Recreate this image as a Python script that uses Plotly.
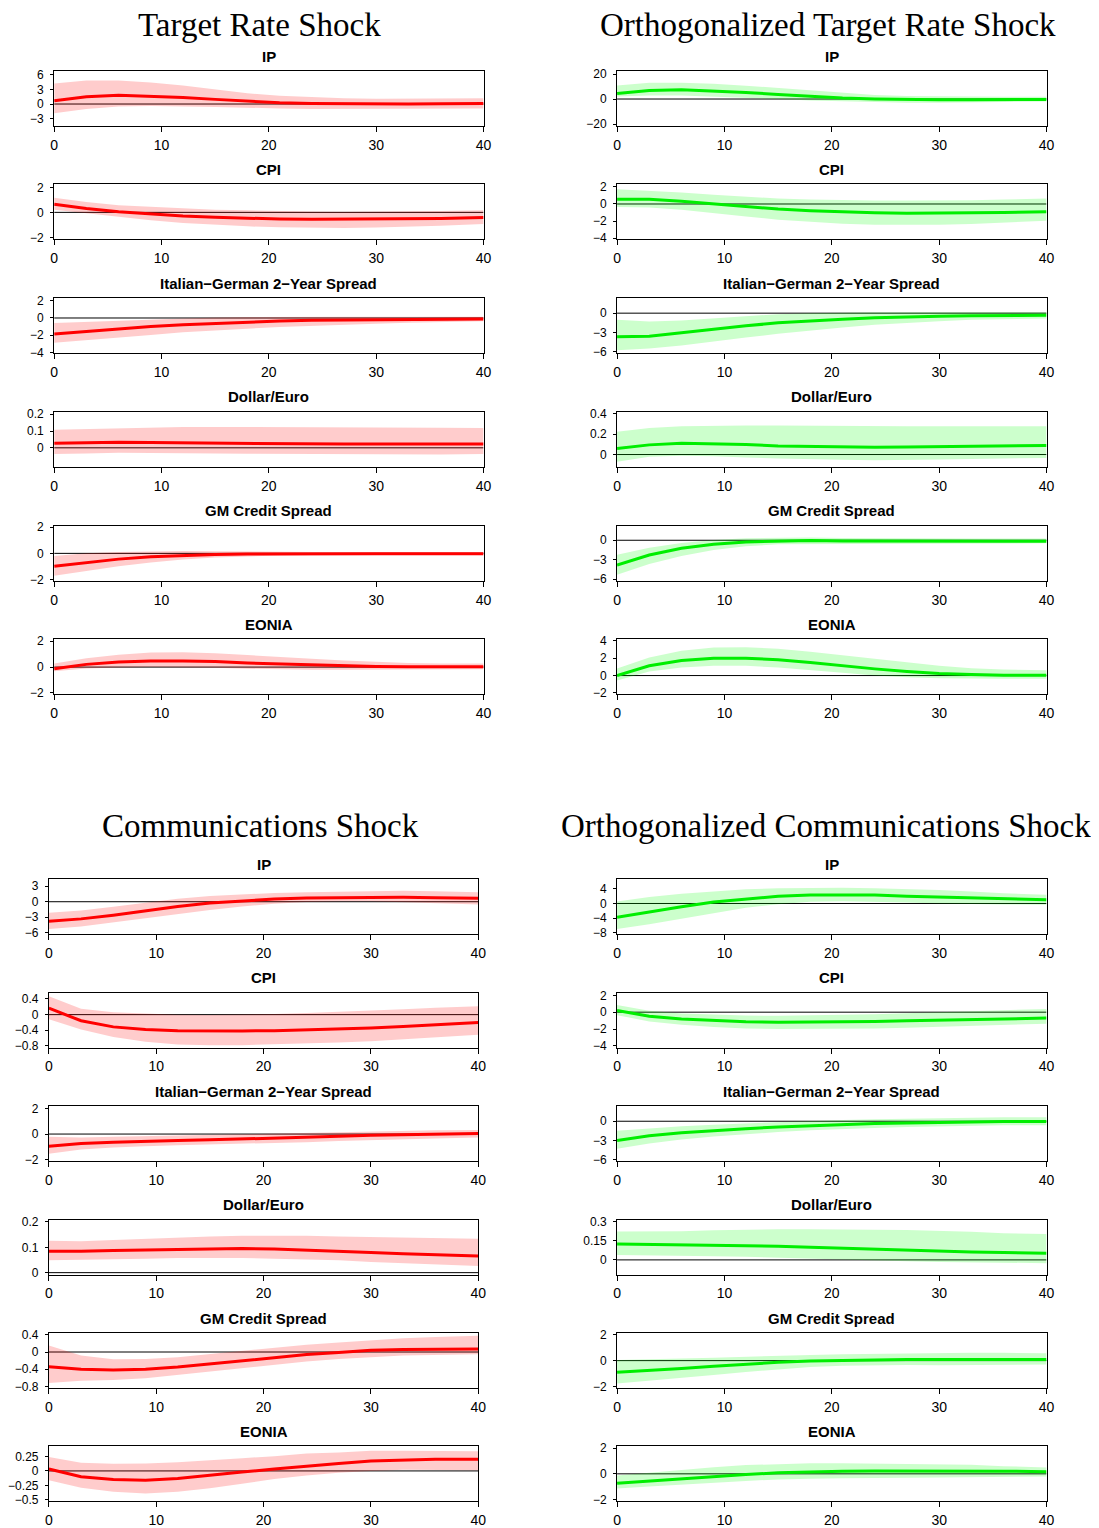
import plotly.graph_objects as go

# ---------------- data ----------------
H = [0, 3, 6, 9, 12, 15, 18, 21, 24, 27, 30, 33, 36, 40]
X_TICKS = [0, 10, 20, 30, 40]
VARS = ["IP", "CPI", "Italian\u2212German 2\u2212Year Spread", "Dollar/Euro", "GM Credit Spread", "EONIA"]
PANEL_TITLES = ["Target Rate Shock", "Orthogonalized Target Rate Shock",
                "Communications Shock", "Orthogonalized Communications Shock"]

# Target Rate Shock
tr_ip_mid = [0.65, 1.5, 1.8, 1.6, 1.35, 0.95, 0.55, 0.25, 0.12, 0.05, 0.02, 0.02, 0.05, 0.1]
tr_ip_hi = [4.2, 4.8, 4.8, 4.4, 3.8, 3.0, 2.2, 1.7, 1.4, 1.2, 1.1, 1.1, 1.1, 1.2]
tr_ip_lo = [-1.9, -1.0, -0.5, -0.4, -0.5, -0.6, -0.7, -0.9, -1.0, -1.0, -1.0, -1.0, -0.95, -0.9]
tr_cpi_mid = [0.64, 0.3, 0.05, -0.15, -0.3, -0.4, -0.48, -0.53, -0.56, -0.56, -0.55, -0.53, -0.5, -0.42]
tr_cpi_hi = [1.17, 0.83, 0.56, 0.43, 0.3, 0.21, 0.16, 0.1, 0.07, 0.05, 0.05, 0.07, 0.1, 0.16]
tr_cpi_lo = [0.2, -0.1, -0.37, -0.64, -0.85, -0.99, -1.12, -1.2, -1.25, -1.25, -1.22, -1.17, -1.07, -0.93]
tr_it_mid = [-1.86, -1.55, -1.28, -1.0, -0.78, -0.62, -0.47, -0.35, -0.27, -0.23, -0.19, -0.16, -0.14, -0.12]
tr_it_hi = [-0.58, -0.45, -0.3, -0.15, -0.05, 0.05, 0.12, 0.15, 0.15, 0.15, 0.15, 0.15, 0.15, 0.15]
tr_it_lo = [-2.87, -2.56, -2.25, -1.98, -1.67, -1.44, -1.24, -1.05, -0.9, -0.78, -0.66, -0.54, -0.46, -0.39]
tr_fx_mid = [0.027, 0.031, 0.033, 0.031, 0.029, 0.027, 0.025, 0.023, 0.022, 0.022, 0.022, 0.022, 0.022, 0.022]
tr_fx_hi = [0.108, 0.112, 0.118, 0.121, 0.124, 0.124, 0.124, 0.124, 0.124, 0.124, 0.123, 0.121, 0.12, 0.118]
tr_fx_lo = [-0.037, -0.033, -0.029, -0.029, -0.031, -0.033, -0.035, -0.037, -0.039, -0.039, -0.039, -0.039, -0.039, -0.037]
tr_gm_mid = [-0.99, -0.7, -0.44, -0.26, -0.16, -0.08, -0.05, -0.03, -0.02, -0.02, -0.02, -0.02, -0.02, -0.02]
tr_gm_hi = [-0.2, 0.0, 0.1, 0.16, 0.18, 0.16, 0.13, 0.1, 0.08, 0.08, 0.08, 0.08, 0.08, 0.08]
tr_gm_lo = [-1.71, -1.35, -0.99, -0.7, -0.47, -0.31, -0.21, -0.16, -0.13, -0.11, -0.1, -0.1, -0.1, -0.1]
tr_eo_mid = [-0.13, 0.21, 0.4, 0.48, 0.48, 0.43, 0.32, 0.24, 0.16, 0.1, 0.05, 0.03, 0.02, 0.02]
tr_eo_hi = [0.27, 0.69, 0.96, 1.12, 1.15, 1.07, 0.93, 0.77, 0.64, 0.51, 0.4, 0.32, 0.27, 0.27]
tr_eo_lo = [-0.32, -0.1, -0.03, 0.0, 0.0, -0.05, -0.13, -0.19, -0.21, -0.21, -0.21, -0.21, -0.19, -0.16]

# Orthogonalized Target Rate Shock
otr_ip_mid = [4.5, 6.9, 7.5, 6.7, 5.3, 3.7, 2.1, 0.8, 0.0, -0.5, -0.6, -0.6, -0.5, -0.3]
otr_ip_hi = [10.9, 13.0, 13.0, 12.3, 10.7, 8.8, 6.7, 4.5, 3.2, 2.4, 2.1, 1.9, 1.9, 1.9]
otr_ip_lo = [2.1, 2.9, 2.9, 2.1, 1.1, 0.0, -1.1, -1.9, -2.4, -2.9, -2.9, -2.9, -2.4, -1.9]
otr_cpi_mid = [0.56, 0.56, 0.32, 0.0, -0.32, -0.6, -0.8, -0.96, -1.04, -1.08, -1.08, -1.04, -1.0, -0.92]
otr_cpi_hi = [1.72, 1.56, 1.36, 1.08, 0.84, 0.64, 0.52, 0.44, 0.4, 0.4, 0.4, 0.44, 0.52, 0.64]
otr_cpi_lo = [-0.36, -0.4, -0.68, -1.08, -1.48, -1.84, -2.12, -2.32, -2.44, -2.48, -2.44, -2.36, -2.2, -1.96]
otr_it_mid = [-3.68, -3.58, -3.06, -2.49, -1.97, -1.5, -1.19, -0.93, -0.73, -0.57, -0.47, -0.41, -0.36, -0.31]
otr_it_hi = [-1.04, -1.3, -1.14, -0.83, -0.47, -0.16, 0.0, 0.1, 0.16, 0.16, 0.16, 0.16, 0.16, 0.16]
otr_it_lo = [-5.75, -5.49, -5.03, -4.46, -3.78, -3.21, -2.69, -2.23, -1.81, -1.5, -1.24, -1.04, -0.93, -0.83]
otr_fx_mid = [0.059, 0.095, 0.111, 0.108, 0.098, 0.085, 0.079, 0.075, 0.072, 0.075, 0.079, 0.082, 0.085, 0.089]
otr_fx_hi = [0.223, 0.262, 0.279, 0.285, 0.285, 0.285, 0.282, 0.282, 0.282, 0.279, 0.279, 0.279, 0.279, 0.279]
otr_fx_lo = [-0.072, -0.023, -0.013, -0.016, -0.03, -0.039, -0.049, -0.052, -0.056, -0.056, -0.049, -0.043, -0.036, -0.033]
otr_gm_mid = [-3.83, -2.28, -1.24, -0.62, -0.26, -0.1, -0.05, -0.1, -0.13, -0.15, -0.15, -0.15, -0.15, -0.15]
otr_gm_hi = [-2.22, -1.14, -0.41, 0.05, 0.31, 0.41, 0.41, 0.36, 0.31, 0.28, 0.26, 0.26, 0.26, 0.26]
otr_gm_lo = [-5.33, -3.67, -2.43, -1.5, -0.93, -0.62, -0.52, -0.52, -0.52, -0.52, -0.5, -0.5, -0.48, -0.47]
otr_eo_mid = [0.0, 1.12, 1.73, 2.0, 2.0, 1.81, 1.5, 1.12, 0.77, 0.46, 0.23, 0.12, 0.04, 0.04]
otr_eo_hi = [0.81, 2.08, 2.85, 3.23, 3.27, 3.08, 2.73, 2.31, 1.88, 1.46, 1.12, 0.85, 0.69, 0.62]
otr_eo_lo = [-0.58, 0.46, 0.92, 1.12, 1.12, 0.92, 0.65, 0.31, 0.0, -0.19, -0.31, -0.35, -0.38, -0.38]

# Communications Shock
cs_ip_mid = [-3.78, -3.33, -2.61, -1.76, -0.91, -0.26, 0.2, 0.52, 0.72, 0.78, 0.85, 0.85, 0.78, 0.65]
cs_ip_hi = [-2.15, -1.7, -0.98, -0.13, 0.59, 1.11, 1.43, 1.7, 1.83, 1.96, 2.09, 2.15, 2.02, 1.83]
cs_ip_lo = [-5.28, -4.83, -4.11, -3.26, -2.41, -1.63, -0.91, -0.39, -0.07, 0.07, 0.07, -0.07, -0.26, -0.52]
cs_cpi_mid = [0.165, -0.157, -0.313, -0.383, -0.409, -0.417, -0.417, -0.409, -0.39, -0.374, -0.34, -0.304, -0.26, -0.2]
cs_cpi_hi = [0.47, 0.148, 0.06, 0.026, 0.0, -0.01, 0.0, 0.017, 0.043, 0.07, 0.104, 0.14, 0.174, 0.217]
cs_cpi_lo = [-0.12, -0.383, -0.574, -0.696, -0.765, -0.78, -0.78, -0.765, -0.74, -0.713, -0.678, -0.635, -0.583, -0.513]
cs_it_mid = [-0.95, -0.74, -0.63, -0.55, -0.5, -0.45, -0.39, -0.34, -0.26, -0.18, -0.1, -0.05, 0.0, 0.05]
cs_it_hi = [-0.21, -0.26, -0.21, -0.16, -0.1, -0.05, 0.0, 0.05, 0.13, 0.18, 0.24, 0.26, 0.29, 0.32]
cs_it_lo = [-1.53, -1.21, -1.05, -0.95, -0.87, -0.82, -0.76, -0.68, -0.63, -0.55, -0.47, -0.39, -0.34, -0.26]
cs_fx_mid = [0.084, 0.084, 0.087, 0.089, 0.092, 0.095, 0.095, 0.093, 0.089, 0.086, 0.08, 0.075, 0.071, 0.066]
cs_fx_hi = [0.126, 0.124, 0.129, 0.134, 0.139, 0.143, 0.146, 0.147, 0.146, 0.143, 0.141, 0.138, 0.136, 0.134]
cs_fx_lo = [0.049, 0.05, 0.053, 0.055, 0.058, 0.059, 0.058, 0.055, 0.053, 0.049, 0.042, 0.037, 0.032, 0.026]
cs_gm_mid = [-0.34, -0.4, -0.42, -0.4, -0.35, -0.28, -0.21, -0.13, -0.06, -0.01, 0.04, 0.06, 0.07, 0.07]
cs_gm_hi = [0.15, -0.08, -0.17, -0.16, -0.12, -0.05, 0.03, 0.1, 0.17, 0.22, 0.27, 0.32, 0.35, 0.38]
cs_gm_lo = [-0.72, -0.67, -0.65, -0.61, -0.54, -0.46, -0.38, -0.3, -0.22, -0.16, -0.12, -0.08, -0.06, -0.05]
cs_eo_mid = [0.034, -0.1, -0.15, -0.16, -0.13, -0.08, -0.02, 0.034, 0.085, 0.13, 0.17, 0.19, 0.2, 0.2]
cs_eo_hi = [0.24, 0.14, 0.125, 0.13, 0.15, 0.18, 0.22, 0.255, 0.3, 0.32, 0.35, 0.35, 0.35, 0.34]
cs_eo_lo = [-0.16, -0.29, -0.36, -0.39, -0.36, -0.3, -0.22, -0.14, -0.08, -0.03, 0.0, 0.02, 0.02, 0.01]

# Orthogonalized Communications Shock
ocs_ip_mid = [-3.8, -2.3, -0.9, 0.4, 1.3, 2.0, 2.3, 2.4, 2.3, 2.0, 1.8, 1.5, 1.2, 1.0]
ocs_ip_hi = [0.56, 1.8, 2.7, 3.4, 3.9, 4.2, 4.3, 4.3, 4.2, 4.0, 3.7, 3.3, 2.8, 2.4]
ocs_ip_lo = [-7.0, -5.7, -4.3, -2.7, -1.2, -0.2, 0.5, 0.65, 0.56, 0.28, 0.0, -0.2, -0.28, -0.37]
ocs_cpi_mid = [0.2, -0.47, -0.82, -1.02, -1.14, -1.18, -1.18, -1.14, -1.1, -1.02, -0.94, -0.86, -0.78, -0.7]
ocs_cpi_hi = [0.86, 0.16, -0.16, -0.31, -0.39, -0.43, -0.39, -0.31, -0.24, -0.12, 0.0, 0.16, 0.27, 0.39]
ocs_cpi_lo = [-0.35, -1.1, -1.49, -1.76, -1.92, -2.0, -2.0, -1.96, -1.92, -1.84, -1.76, -1.65, -1.53, -1.37]
ocs_it_mid = [-3.0, -2.26, -1.79, -1.42, -1.16, -0.89, -0.68, -0.53, -0.37, -0.26, -0.16, -0.1, -0.05, -0.05]
ocs_it_hi = [-1.47, -1.1, -0.79, -0.53, -0.32, -0.1, 0.05, 0.21, 0.32, 0.42, 0.53, 0.58, 0.63, 0.63]
ocs_it_lo = [-4.3, -3.47, -2.84, -2.37, -2.0, -1.68, -1.42, -1.21, -1.05, -0.89, -0.79, -0.68, -0.63, -0.63]
ocs_fx_mid = [0.124, 0.121, 0.121, 0.118, 0.116, 0.108, 0.1, 0.092, 0.084, 0.076, 0.071, 0.063, 0.058, 0.053]
ocs_fx_hi = [0.224, 0.224, 0.226, 0.232, 0.237, 0.24, 0.24, 0.24, 0.237, 0.234, 0.229, 0.221, 0.21, 0.203]
ocs_fx_lo = [0.039, 0.034, 0.032, 0.029, 0.024, 0.018, 0.013, 0.005, -0.003, -0.011, -0.016, -0.021, -0.024, -0.026]
ocs_gm_mid = [-0.91, -0.78, -0.62, -0.44, -0.26, -0.13, -0.03, 0.03, 0.05, 0.08, 0.08, 0.08, 0.08, 0.08]
ocs_gm_hi = [0.05, 0.08, 0.16, 0.23, 0.31, 0.39, 0.44, 0.49, 0.52, 0.57, 0.6, 0.6, 0.6, 0.57]
ocs_gm_lo = [-1.77, -1.56, -1.35, -1.12, -0.88, -0.68, -0.49, -0.39, -0.34, -0.34, -0.36, -0.36, -0.34, -0.31]
ocs_eo_mid = [-0.73, -0.55, -0.36, -0.18, -0.05, 0.08, 0.16, 0.21, 0.23, 0.23, 0.26, 0.23, 0.21, 0.16]
ocs_eo_hi = [-0.13, 0.1, 0.31, 0.52, 0.68, 0.78, 0.83, 0.83, 0.81, 0.78, 0.75, 0.7, 0.6, 0.49]
ocs_eo_lo = [-1.14, -0.99, -0.83, -0.68, -0.55, -0.44, -0.39, -0.34, -0.31, -0.31, -0.29, -0.29, -0.26, -0.21]

# y-axis ranges and tick values per panel
tr_yrange = [[-4.5, 6.75], [-2.16, 2.24], [-4.12, 2.28], [-0.113, 0.214], [-2.1, 2.1], [-2.1, 2.16]]
tr_yticks = [[6, 3, 0, -3], [2, 0, -2], [2, 0, -2, -4], [0.2, 0.1, 0], [2, 0, -2], [2, 0, -2]]
otr_yrange = [[-21.6, 22.4], [-4.16, 2.31], [-6.26, 2.3], [-0.121, 0.42], [-6.26, 2.22], [-2.15, 4.19]]
otr_yticks = [[20, 0, -20], [2, 0, -2, -4], [0, -3, -6], [0.4, 0.2, 0], [0, -3, -6], [4, 2, 0, -2]]
cs_yrange = [[-6.32, 4.36], [-0.843, 0.563], [-2.1, 2.18], [-0.008, 0.209], [-0.839, 0.439], [-0.523, 0.429]]
cs_yticks = [[3, 0, -3, -6], [0.4, 0, -0.4, -0.8], [2, 0, -2], [0.2, 0.1, 0], [0.4, 0, -0.4, -0.8], [0.25, 0, -0.25, -0.5]]
ocs_yrange = [[-8.46, 6.66], [-4.2, 2.32], [-6.2, 2.37], [-0.116, 0.316], [-2.13, 2.13], [-2.13, 2.16]]
ocs_yticks = [[4, 0, -4, -8], [2, 0, -2, -4], [0, -3, -6], [0.3, 0.15, 0], [2, 0, -2], [2, 0, -2]]

# ---------------- assembly ----------------
panels = [
    dict(mid=[tr_ip_mid, tr_cpi_mid, tr_it_mid, tr_fx_mid, tr_gm_mid, tr_eo_mid],
         hi=[tr_ip_hi, tr_cpi_hi, tr_it_hi, tr_fx_hi, tr_gm_hi, tr_eo_hi],
         lo=[tr_ip_lo, tr_cpi_lo, tr_it_lo, tr_fx_lo, tr_gm_lo, tr_eo_lo],
         yr=tr_yrange, yt=tr_yticks, color="#FF0000", band="rgba(255,0,0,0.2)"),
    dict(mid=[otr_ip_mid, otr_cpi_mid, otr_it_mid, otr_fx_mid, otr_gm_mid, otr_eo_mid],
         hi=[otr_ip_hi, otr_cpi_hi, otr_it_hi, otr_fx_hi, otr_gm_hi, otr_eo_hi],
         lo=[otr_ip_lo, otr_cpi_lo, otr_it_lo, otr_fx_lo, otr_gm_lo, otr_eo_lo],
         yr=otr_yrange, yt=otr_yticks, color="#00EE00", band="rgba(0,255,0,0.2)"),
    dict(mid=[cs_ip_mid, cs_cpi_mid, cs_it_mid, cs_fx_mid, cs_gm_mid, cs_eo_mid],
         hi=[cs_ip_hi, cs_cpi_hi, cs_it_hi, cs_fx_hi, cs_gm_hi, cs_eo_hi],
         lo=[cs_ip_lo, cs_cpi_lo, cs_it_lo, cs_fx_lo, cs_gm_lo, cs_eo_lo],
         yr=cs_yrange, yt=cs_yticks, color="#FF0000", band="rgba(255,0,0,0.2)"),
    dict(mid=[ocs_ip_mid, ocs_cpi_mid, ocs_it_mid, ocs_fx_mid, ocs_gm_mid, ocs_eo_mid],
         hi=[ocs_ip_hi, ocs_cpi_hi, ocs_it_hi, ocs_fx_hi, ocs_gm_hi, ocs_eo_hi],
         lo=[ocs_ip_lo, ocs_cpi_lo, ocs_it_lo, ocs_fx_lo, ocs_gm_lo, ocs_eo_lo],
         yr=ocs_yrange, yt=ocs_yticks, color="#00EE00", band="rgba(0,255,0,0.2)"),
]

W, HT = 1099, 1528
# mapping from target picture pixels to figure pixels (page offset and scale seen in the photograph)
OX, SX = 15.0, 0.9855
OY, SY = 13.0, 0.9925
TOP_TOPS = [71, 184.3, 298.3, 411.7, 525.7, 639]
BOT_TOPS = [879, 992.3, 1105.7, 1219.3, 1332.7, 1445.7]
BOX_H = 55
geom = [
    dict(x0=49.3, x1=480.3, tops=TOP_TOPS, title_x=255, title_y=24.5),
    dict(x0=614.3, x1=1045.4, tops=TOP_TOPS, title_x=826, title_y=24.5),
    dict(x0=44, x1=475, tops=BOT_TOPS, title_x=256, title_y=826),
    dict(x0=614.3, x1=1045.4, tops=BOT_TOPS, title_x=824, title_y=826),
]

SANS = "Liberation Sans, Arial, sans-serif"


def px_x(v):
    return ((v - OX) / SX) / W


def px_y(v):
    return 1 - ((v - OY) / SY) / HT


def fmt(v):
    s = f"{abs(v):g}"
    return ("\u2212" + s) if v < 0 else s


fig = go.Figure()
layout = dict(width=W, height=HT, margin=dict(l=0, r=0, t=0, b=0),
              paper_bgcolor="white", plot_bgcolor="white", showlegend=False)
annotations = []
shapes = []

k = 0
for p, g in zip(panels, geom):
    for r in range(6):
        k += 1
        xa = "x" if k == 1 else f"x{k}"
        ya = "y" if k == 1 else f"y{k}"
        xkey = "xaxis" if k == 1 else f"xaxis{k}"
        ykey = "yaxis" if k == 1 else f"yaxis{k}"
        top = g["tops"][r]
        bot = top + BOX_H
        layout[xkey] = dict(domain=[px_x(g["x0"]), px_x(g["x1"])], range=[0, 40],
                            tickvals=X_TICKS, ticktext=[str(t) for t in X_TICKS],
                            showline=True, linecolor="black", linewidth=1, mirror=True,
                            ticks="outside", ticklen=5, tickwidth=1, tickcolor="black",
                            showgrid=False, zeroline=False, anchor=ya,
                            tickfont=dict(family=SANS, size=14, color="black"),
                            ticklabelstandoff=1, fixedrange=True)
        layout[ykey] = dict(domain=[px_y(bot), px_y(top)], range=p["yr"][r],
                            tickvals=p["yt"][r], ticktext=[fmt(v) for v in p["yt"][r]],
                            showline=True, linecolor="black", linewidth=1, mirror=True,
                            ticks="outside", ticklen=3, tickwidth=1, tickcolor="black",
                            showgrid=False, zeroline=False, anchor=xa,
                            tickfont=dict(family=SANS, size=12, color="black"),
                            ticklabelstandoff=4, fixedrange=True)
        shapes.append(dict(type="line", xref=xa, yref=ya, x0=0, x1=40, y0=0, y1=0,
                           line=dict(color="black", width=1), layer="below"))
        fig.add_trace(go.Scatter(x=H + H[::-1], y=p["hi"][r] + p["lo"][r][::-1],
                                 fill="toself", fillcolor=p["band"], mode="lines",
                                 line=dict(width=0, color=p["band"]), hoverinfo="skip",
                                 xaxis=xa, yaxis=ya))
        fig.add_trace(go.Scatter(x=H, y=p["mid"][r], mode="lines",
                                 line=dict(color=p["color"], width=3),
                                 xaxis=xa, yaxis=ya))
        annotations.append(dict(text=f"<b>{VARS[r]}</b>", x=px_x((g["x0"] + g["x1"]) / 2),
                                y=px_y(top - 15), xref="paper", yref="paper",
                                xanchor="center", yanchor="middle", showarrow=False,
                                font=dict(family=SANS, size=15, color="black")))

for t, g in zip(PANEL_TITLES, geom):
    annotations.append(dict(text=t, x=px_x(g["title_x"]), y=px_y(g["title_y"]),
                            xref="paper", yref="paper", xanchor="center", yanchor="middle",
                            showarrow=False,
                            font=dict(family="Liberation Serif, DejaVu Serif, serif", size=33,
                                      color="black")))

layout["annotations"] = annotations
layout["shapes"] = shapes
fig.update_layout(**layout)
fig.write_html("out.html")
